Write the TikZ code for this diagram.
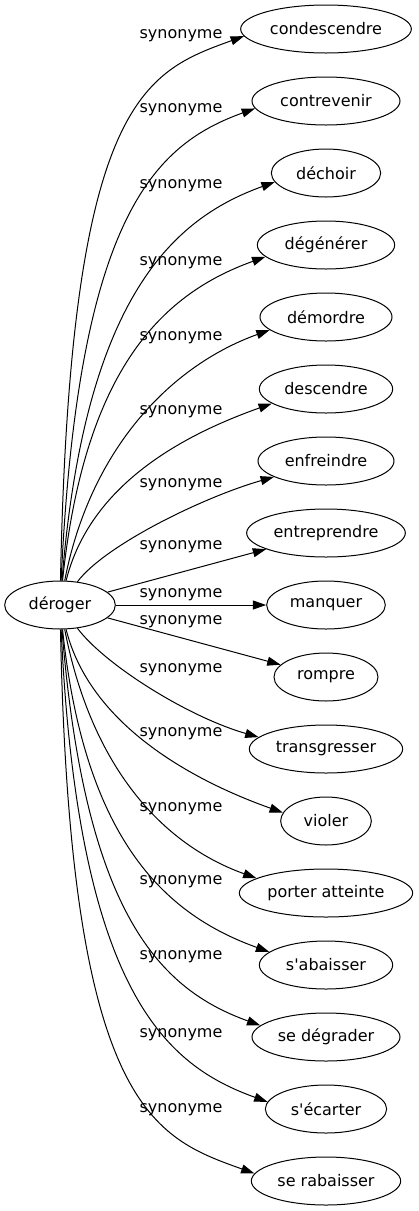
\documentclass[tikz,border=0pt]{standalone}
\usepackage{fontspec}
\setmainfont{DejaVu Sans}
\usetikzlibrary{arrows.meta,shapes.geometric,positioning}

\begin{document}
\begin{tikzpicture}[x=0.75pt,y=-0.75pt,node distance=54pt,line width=0.75pt,
		font=\fontsize{12pt}{14pt}\selectfont,>={Triangle[length=10pt,width=6.75pt]},
		word/.style={draw,ellipse,inner sep=0pt,minimum height=36pt},
		syn/.style={inner sep=0pt}]
			\useasboundingbox (0,0) rectangle (418,1211);
			\node (condescendre) [word,minimum width=128pt] at (326,29) {condescendre};
			\node (contrevenir) [word,minimum width=111pt,below of=condescendre] {contrevenir};
			\node (dechoir) [word,minimum width=82pt,below of=contrevenir] {déchoir};
			\node (degenerer) [word,minimum width=103pt,below of=dechoir] {dégénérer};
			\node (demordre) [word,minimum width=99pt,below of=degenerer] {démordre};
			\node (descendre) [word,minimum width=100pt,below of=demordre] {descendre};
			\node (enfreindre) [word,minimum width=102pt,below of=descendre] {enfreindre};
			\node (entreprendre) [word,minimum width=119pt,below of=enfreindre] {entreprendre};
			\node (manquer) [word,minimum width=89pt,below of=entreprendre] {manquer};
			\node (rompre) [word,minimum width=78pt,below of=manquer] {rompre};
			\node (transgresser) [word,minimum width=115pt,below of=rompre] {transgresser};
			\node (violer) [word,minimum width=68pt,below of=transgresser] {violer};
			\node (porter) [word,minimum width=130pt,below of=violer] {porter atteinte};
			\node (sabaisser) [word,minimum width=100pt,below of=porter] {s\textquotesingle abaisser};
			\node (sedegrader) [word,minimum width=111pt,below of=sabaisser] {se dégrader};
			\node (secarter) [word,minimum width=91pt,below of=sedegrader] {s\textquotesingle écarter};
			\node (serabaisser) [word,minimum width=112pt,below of=secarter] {se rabaisser};
			\node (deroger) [word,minimum width=83pt] at (60,605) {déroger};
			% edges
			\draw [->] (deroger) .. controls +(10,-505) and +(-100,36) .. (condescendre.185);
			\draw [->] (deroger) .. controls +(18,-390) and +(-100,36) .. (contrevenir.186);
			\draw [->] (deroger) .. controls +(25,-310) and +(-100,36) .. (dechoir.190);
			\draw [->] (deroger) .. controls +(25,-240) and +(-100,36) .. (degenerer.191);
			\draw [->] (deroger) .. controls +(30,-155) and +(-100,36) .. (demordre.193);
			\draw [->] (deroger) .. controls +(30,-120) and +(-90,32) .. (descendre.195);
			\draw [->] (deroger) .. controls +(45,-60) and +(-70,20) .. (enfreindre.197);
			\draw [->] (deroger) -- (entreprendre);
			\draw [->] (deroger) -- (manquer);
			\draw [->] (deroger) -- (rompre);
			\draw [->] (deroger) .. controls +(45,60) and +(-70,-20) .. (transgresser.170);
			\draw [->] (deroger) .. controls +(30,120) and +(-90,-32) .. (violer.169);
			\draw [->] (deroger) .. controls +(30,155) and +(-100,-36) .. (porter.168);
			\draw [->] (deroger) .. controls +(25,240) and +(-100,-36) .. (sabaisser.167);
			\draw [->] (deroger) .. controls +(25,310) and +(-100,-36) .. (sedegrader.170);
			\draw [->] (deroger) .. controls +(18,390) and +(-100,-36) .. (secarter.173);
			\draw [->] (deroger) .. controls +(10,505) and +(-100,-36) .. (serabaisser.174);
			% labels
			\node (lcondescendre) [syn] at (181,36) {synonyme};
			\node (lcontrevenir) [syn] at (181,110) {synonyme};
			\node (ldechoir) [syn] at (181,185.5) {synonyme};
			\node (ldegenerer) [syn] at (181,262.5) {synonyme};
			\node (ldemordre) [syn] at (181,337.5) {synonyme};
			\node (ldescendre) [syn] at (181,411.5) {synonyme};
			\node (lenfreindre) [syn] at (181,484.5) {synonyme};
			\node (lentreprendre) [syn] at (181,546.5) {synonyme};
			\node (lmanquer) [syn] at (181,595) {synonyme};
			\node (lrompre) [syn] at (181,621.5) {synonyme};
			\node (ltransgresser) [syn] at (181,670) {synonyme};
			\node (lvioler) [syn] at (181,734) {synonyme};
			\node (lporter) [syn] at (181,808.5) {synonyme};
			\node (lsabaisser) [syn] at (181,882) {synonyme};
			\node (lsedegrader) [syn] at (181,956.5) {synonyme};
			\node (lsecarter) [syn] at (181,1035) {synonyme};
			\node (lserabaisser) [syn] at (181,1109.5) {synonyme};
		\end{tikzpicture}
\end{document}
